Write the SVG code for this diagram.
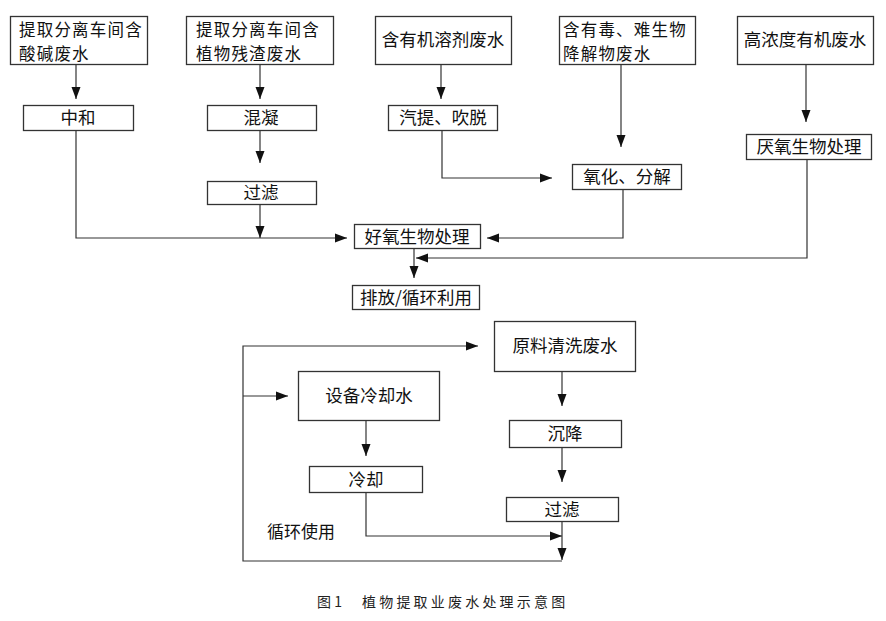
<svg xmlns="http://www.w3.org/2000/svg" width="886" height="621" viewBox="0 0 886 621">
<defs>
<marker id="ah" markerUnits="userSpaceOnUse" markerWidth="12" markerHeight="10" refX="12" refY="5" orient="auto">
<path d="M0,0.5 L12,5 L0,9.5 z" fill="#111"/>
</marker>
<style>
.b{fill:#fff;stroke:#333;stroke-width:1.3}
.t{font-family:"Noto Sans CJK SC","Liberation Serif",serif;font-size:17.5px;fill:#111}
.m{font-size:16.5px;letter-spacing:1.2px}
.c{text-anchor:middle}
.l{fill:none;stroke:#333;stroke-width:1.2;marker-end:url(#ah)}
</style>
</defs>
<rect width="886" height="621" fill="#fff"/>
<g id="n1"><rect class="b" x="10.5" y="16.5" width="137" height="48"/><text class="t m" x="19" y="36">提取分离车间含</text><text class="t m" x="19" y="60">酸碱废水</text></g>
<g id="n2"><rect class="b" x="186.5" y="16.5" width="147" height="48"/><text class="t m" x="196" y="36">提取分离车间含</text><text class="t m" x="196" y="60">植物残渣废水</text></g>
<g id="n3"><rect class="b" x="375.5" y="16.5" width="136" height="48"/><text class="t c" x="443" y="46">含有机溶剂废水</text></g>
<g id="n4"><rect class="b" x="559.5" y="16.5" width="136" height="48"/><text class="t m" x="563" y="36">含有毒、难生物</text><text class="t m" x="563" y="60">降解物废水</text></g>
<g id="n5"><rect class="b" x="737.5" y="16.5" width="136" height="48"/><text class="t c" x="805" y="46">高浓度有机废水</text></g>
<g id="n6"><rect class="b" x="23.5" y="105.5" width="110" height="25"/><text class="t c" x="78" y="124">中和</text></g>
<g id="n7"><rect class="b" x="207.5" y="105.5" width="109" height="25"/><text class="t c" x="261" y="124">混凝</text></g>
<g id="n8"><rect class="b" x="388.5" y="105.5" width="109" height="25"/><text class="t c" x="443" y="124">汽提、吹脱</text></g>
<g id="n9"><rect class="b" x="207.5" y="181.5" width="109" height="23"/><text class="t c" x="261" y="199">过滤</text></g>
<g id="n10"><rect class="b" x="572.5" y="164.5" width="109" height="25"/><text class="t c" x="627" y="183">氧化、分解</text></g>
<g id="n11"><rect class="b" x="746.5" y="134.5" width="125" height="25"/><text class="t c" x="809" y="153">厌氧生物处理</text></g>
<g id="n12"><rect class="b" x="354.5" y="224.5" width="126" height="24"/><text class="t c" x="417" y="243">好氧生物处理</text></g>
<g id="n13"><rect class="b" x="352.5" y="285.5" width="127" height="24"/><text class="t c" x="416" y="304">排放/循环利用</text></g>
<g id="n14"><rect class="b" x="494.5" y="321.5" width="141" height="50"/><text class="t c" x="565" y="352">原料清洗废水</text></g>
<g id="n15"><rect class="b" x="298.5" y="371.5" width="141" height="49"/><text class="t c" x="369" y="402">设备冷却水</text></g>
<g id="n16"><rect class="b" x="309.5" y="466.5" width="113" height="26"/><text class="t c" x="366" y="486">冷却</text></g>
<g id="n17"><rect class="b" x="509.5" y="420.5" width="112" height="27"/><text class="t c" x="565" y="440">沉降</text></g>
<g id="n18"><rect class="b" x="506.5" y="497.5" width="112" height="24"/><text class="t c" x="562" y="516">过滤</text></g>
<g id="connectors">
<path class="l" d="M76,64 V99"/>
<path class="l" d="M260,64 V99"/>
<path class="l" d="M260,130 V163"/>
<path class="l" d="M260,204 V238"/>
<path class="l" d="M76,130 V238 H347"/>
<path class="l" d="M441,64 V99"/>
<path class="l" d="M442,130 V178 H552"/>
<path class="l" d="M621,64 V147"/>
<path class="l" d="M623,189 V238 H487"/>
<path class="l" d="M806,64 V122"/>
<path class="l" d="M807,159 V258 H416"/>
<path class="l" d="M414,248 V278"/>
<path class="l" d="M562,371 V406"/>
<path class="l" d="M562,447 V482"/>
<path class="l" d="M366,420 V456"/>
<path class="l" d="M366,492 V536 H562"/>
<path class="l" d="M562,521 V560"/>
<path class="l" d="M562,561 H243 V346 H478"/>
<path class="l" d="M243,396 H288"/>
</g>
<text class="t" x="267" y="538" style="font-size:17px">循环使用</text>
<text x="317" y="607" style="font-family:'Noto Sans CJK SC',sans-serif;font-size:14px;fill:#222">图 1</text>
<text x="362" y="607" style="font-family:'Noto Sans CJK SC',sans-serif;font-size:14px;letter-spacing:3.2px;fill:#222">植物提取业废水处理示意图</text>
</svg>
